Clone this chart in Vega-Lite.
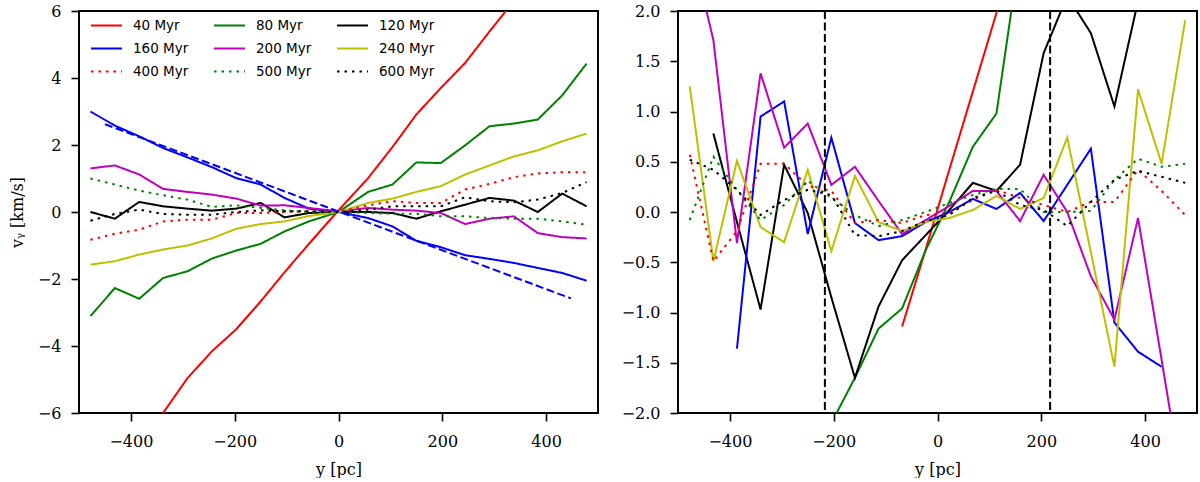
{
  "$schema": "https://vega.github.io/schema/vega-lite/v6.json",
  "padding": {"left": 8, "top": 2, "right": 4, "bottom": 0},
  "background": "white",
  "spacing": 21,
  "config": {
    "view": {"stroke": "black", "strokeWidth": 2},
    "axis": {
      "domain": false,
      "grid": false,
      "tickColor": "black",
      "tickWidth": 1.6,
      "tickSize": 8,
      "labelFont": "DejaVu Serif",
      "labelFontSize": 16,
      "labelColor": "black",
      "titleFont": "DejaVu Serif",
      "titleFontSize": 16,
      "titleFontWeight": "normal",
      "titleColor": "black"
    },
    "axisX": {"labelPadding": 12, "titlePadding": 12},
    "axisY": {"labelPadding": 10, "titlePadding": 12}
  },
  "datasets": {
    "left": [
      {"t": "40 Myr", "x": -478, "v": -8.7}, {"t": "40 Myr", "x": -431, "v": -7.8}, {"t": "40 Myr", "x": -384, "v": -6.9},
      {"t": "40 Myr", "x": -338, "v": -6.0}, {"t": "40 Myr", "x": -291, "v": -4.96}, {"t": "40 Myr", "x": -244, "v": -4.16},
      {"t": "40 Myr", "x": -197, "v": -3.5}, {"t": "40 Myr", "x": -150, "v": -2.67}, {"t": "40 Myr", "x": -104, "v": -1.8},
      {"t": "40 Myr", "x": -57, "v": -0.95}, {"t": "40 Myr", "x": 0, "v": 0.05}, {"t": "40 Myr", "x": 57, "v": 1.01},
      {"t": "40 Myr", "x": 104, "v": 1.94}, {"t": "40 Myr", "x": 150, "v": 2.91}, {"t": "40 Myr", "x": 197, "v": 3.7},
      {"t": "40 Myr", "x": 244, "v": 4.45}, {"t": "40 Myr", "x": 291, "v": 5.39}, {"t": "40 Myr", "x": 338, "v": 6.3},
      {"t": "40 Myr", "x": 384, "v": 7.1}, {"t": "40 Myr", "x": 431, "v": 8.0}, {"t": "40 Myr", "x": 478, "v": 8.8},

      {"t": "80 Myr", "x": -478, "v": -3.11}, {"t": "80 Myr", "x": -431, "v": -2.27}, {"t": "80 Myr", "x": -384, "v": -2.59},
      {"t": "80 Myr", "x": -338, "v": -1.97}, {"t": "80 Myr", "x": -291, "v": -1.77}, {"t": "80 Myr", "x": -244, "v": -1.39},
      {"t": "80 Myr", "x": -197, "v": -1.15}, {"t": "80 Myr", "x": -150, "v": -0.95}, {"t": "80 Myr", "x": -104, "v": -0.58},
      {"t": "80 Myr", "x": -57, "v": -0.28}, {"t": "80 Myr", "x": 0, "v": 0.0}, {"t": "80 Myr", "x": 57, "v": 0.6},
      {"t": "80 Myr", "x": 104, "v": 0.82}, {"t": "80 Myr", "x": 150, "v": 1.48}, {"t": "80 Myr", "x": 197, "v": 1.46},
      {"t": "80 Myr", "x": 244, "v": 1.99}, {"t": "80 Myr", "x": 291, "v": 2.56}, {"t": "80 Myr", "x": 338, "v": 2.64},
      {"t": "80 Myr", "x": 384, "v": 2.76}, {"t": "80 Myr", "x": 431, "v": 3.48}, {"t": "80 Myr", "x": 478, "v": 4.43},

      {"t": "120 Myr", "x": -478, "v": 0.0}, {"t": "120 Myr", "x": -431, "v": -0.2}, {"t": "120 Myr", "x": -384, "v": 0.3},
      {"t": "120 Myr", "x": -338, "v": 0.17}, {"t": "120 Myr", "x": -291, "v": 0.1}, {"t": "120 Myr", "x": -244, "v": 0.04},
      {"t": "120 Myr", "x": -197, "v": 0.1}, {"t": "120 Myr", "x": -150, "v": 0.27}, {"t": "120 Myr", "x": -104, "v": -0.16},
      {"t": "120 Myr", "x": -57, "v": -0.03}, {"t": "120 Myr", "x": 0, "v": 0.0}, {"t": "120 Myr", "x": 57, "v": 0.0},
      {"t": "120 Myr", "x": 104, "v": -0.03}, {"t": "120 Myr", "x": 150, "v": -0.2}, {"t": "120 Myr", "x": 197, "v": 0.02},
      {"t": "120 Myr", "x": 244, "v": 0.22}, {"t": "120 Myr", "x": 291, "v": 0.42}, {"t": "120 Myr", "x": 338, "v": 0.34},
      {"t": "120 Myr", "x": 384, "v": 0.0}, {"t": "120 Myr", "x": 431, "v": 0.55}, {"t": "120 Myr", "x": 478, "v": 0.17},

      {"t": "160 Myr", "x": -478, "v": 3.0}, {"t": "160 Myr", "x": -431, "v": 2.58}, {"t": "160 Myr", "x": -384, "v": 2.26},
      {"t": "160 Myr", "x": -338, "v": 1.91}, {"t": "160 Myr", "x": -291, "v": 1.63}, {"t": "160 Myr", "x": -244, "v": 1.34},
      {"t": "160 Myr", "x": -197, "v": 1.01}, {"t": "160 Myr", "x": -150, "v": 0.82}, {"t": "160 Myr", "x": -104, "v": 0.42},
      {"t": "160 Myr", "x": -57, "v": 0.1}, {"t": "160 Myr", "x": 0, "v": 0.0}, {"t": "160 Myr", "x": 57, "v": -0.18},
      {"t": "160 Myr", "x": 104, "v": -0.43}, {"t": "160 Myr", "x": 150, "v": -0.86}, {"t": "160 Myr", "x": 197, "v": -1.05},
      {"t": "160 Myr", "x": 244, "v": -1.29}, {"t": "160 Myr", "x": 291, "v": -1.4}, {"t": "160 Myr", "x": 338, "v": -1.52},
      {"t": "160 Myr", "x": 384, "v": -1.67}, {"t": "160 Myr", "x": 431, "v": -1.82}, {"t": "160 Myr", "x": 478, "v": -2.05},

      {"t": "200 Myr", "x": -478, "v": 1.3}, {"t": "200 Myr", "x": -431, "v": 1.39}, {"t": "200 Myr", "x": -384, "v": 1.12},
      {"t": "200 Myr", "x": -338, "v": 0.69}, {"t": "200 Myr", "x": -291, "v": 0.6}, {"t": "200 Myr", "x": -244, "v": 0.52},
      {"t": "200 Myr", "x": -197, "v": 0.4}, {"t": "200 Myr", "x": -150, "v": 0.19}, {"t": "200 Myr", "x": -104, "v": 0.2},
      {"t": "200 Myr", "x": -57, "v": 0.12}, {"t": "200 Myr", "x": 0, "v": 0.02}, {"t": "200 Myr", "x": 57, "v": 0.12},
      {"t": "200 Myr", "x": 104, "v": 0.07}, {"t": "200 Myr", "x": 150, "v": 0.04}, {"t": "200 Myr", "x": 197, "v": -0.03},
      {"t": "200 Myr", "x": 244, "v": -0.36}, {"t": "200 Myr", "x": 291, "v": -0.2}, {"t": "200 Myr", "x": 338, "v": -0.13},
      {"t": "200 Myr", "x": 384, "v": -0.63}, {"t": "200 Myr", "x": 431, "v": -0.75}, {"t": "200 Myr", "x": 478, "v": -0.79},

      {"t": "240 Myr", "x": -478, "v": -1.57}, {"t": "240 Myr", "x": -431, "v": -1.47}, {"t": "240 Myr", "x": -384, "v": -1.27},
      {"t": "240 Myr", "x": -338, "v": -1.12}, {"t": "240 Myr", "x": -291, "v": -1.0}, {"t": "240 Myr", "x": -244, "v": -0.79},
      {"t": "240 Myr", "x": -197, "v": -0.5}, {"t": "240 Myr", "x": -150, "v": -0.36}, {"t": "240 Myr", "x": -104, "v": -0.28},
      {"t": "240 Myr", "x": -57, "v": -0.12}, {"t": "240 Myr", "x": 0, "v": 0.0}, {"t": "240 Myr", "x": 57, "v": 0.27},
      {"t": "240 Myr", "x": 104, "v": 0.4}, {"t": "240 Myr", "x": 150, "v": 0.6}, {"t": "240 Myr", "x": 197, "v": 0.77},
      {"t": "240 Myr", "x": 244, "v": 1.12}, {"t": "240 Myr", "x": 291, "v": 1.39}, {"t": "240 Myr", "x": 338, "v": 1.66},
      {"t": "240 Myr", "x": 384, "v": 1.84}, {"t": "240 Myr", "x": 431, "v": 2.11}, {"t": "240 Myr", "x": 478, "v": 2.34},

      {"t": "400 Myr", "x": -478, "v": -0.83}, {"t": "400 Myr", "x": -431, "v": -0.65}, {"t": "400 Myr", "x": -384, "v": -0.53},
      {"t": "400 Myr", "x": -338, "v": -0.28}, {"t": "400 Myr", "x": -291, "v": -0.23}, {"t": "400 Myr", "x": -244, "v": -0.23},
      {"t": "400 Myr", "x": -197, "v": -0.03}, {"t": "400 Myr", "x": -150, "v": -0.03}, {"t": "400 Myr", "x": -104, "v": 0.0},
      {"t": "400 Myr", "x": -57, "v": 0.02}, {"t": "400 Myr", "x": 0, "v": 0.0}, {"t": "400 Myr", "x": 57, "v": 0.2},
      {"t": "400 Myr", "x": 104, "v": 0.32}, {"t": "400 Myr", "x": 150, "v": 0.27}, {"t": "400 Myr", "x": 197, "v": 0.27},
      {"t": "400 Myr", "x": 244, "v": 0.67}, {"t": "400 Myr", "x": 291, "v": 0.84}, {"t": "400 Myr", "x": 338, "v": 1.04},
      {"t": "400 Myr", "x": 384, "v": 1.15}, {"t": "400 Myr", "x": 431, "v": 1.19}, {"t": "400 Myr", "x": 478, "v": 1.19},

      {"t": "500 Myr", "x": -478, "v": 1.0}, {"t": "500 Myr", "x": -431, "v": 0.82}, {"t": "500 Myr", "x": -384, "v": 0.64},
      {"t": "500 Myr", "x": -338, "v": 0.5}, {"t": "500 Myr", "x": -291, "v": 0.37}, {"t": "500 Myr", "x": -244, "v": 0.15},
      {"t": "500 Myr", "x": -197, "v": 0.2}, {"t": "500 Myr", "x": -150, "v": 0.12}, {"t": "500 Myr", "x": -104, "v": 0.05},
      {"t": "500 Myr", "x": -57, "v": 0.0}, {"t": "500 Myr", "x": 0, "v": 0.0}, {"t": "500 Myr", "x": 57, "v": -0.03},
      {"t": "500 Myr", "x": 104, "v": -0.05}, {"t": "500 Myr", "x": 150, "v": -0.05}, {"t": "500 Myr", "x": 197, "v": -0.13},
      {"t": "500 Myr", "x": 244, "v": -0.13}, {"t": "500 Myr", "x": 291, "v": -0.18}, {"t": "500 Myr", "x": 338, "v": -0.2},
      {"t": "500 Myr", "x": 384, "v": -0.2}, {"t": "500 Myr", "x": 431, "v": -0.28}, {"t": "500 Myr", "x": 478, "v": -0.38},

      {"t": "600 Myr", "x": -478, "v": -0.26}, {"t": "600 Myr", "x": -431, "v": -0.06}, {"t": "600 Myr", "x": -384, "v": 0.07},
      {"t": "600 Myr", "x": -338, "v": -0.06}, {"t": "600 Myr", "x": -291, "v": -0.08}, {"t": "600 Myr", "x": -244, "v": -0.08},
      {"t": "600 Myr", "x": -197, "v": 0.0}, {"t": "600 Myr", "x": -150, "v": 0.05}, {"t": "600 Myr", "x": -104, "v": 0.02},
      {"t": "600 Myr", "x": -57, "v": 0.02}, {"t": "600 Myr", "x": 0, "v": 0.0}, {"t": "600 Myr", "x": 57, "v": 0.07},
      {"t": "600 Myr", "x": 104, "v": 0.17}, {"t": "600 Myr", "x": 150, "v": 0.17}, {"t": "600 Myr", "x": 197, "v": 0.17},
      {"t": "600 Myr", "x": 244, "v": 0.44}, {"t": "600 Myr", "x": 291, "v": 0.32}, {"t": "600 Myr", "x": 338, "v": 0.29},
      {"t": "600 Myr", "x": 384, "v": 0.37}, {"t": "600 Myr", "x": 431, "v": 0.57}, {"t": "600 Myr", "x": 478, "v": 0.89}
    ],
    "fit": [{"x": -450, "v": 2.62}, {"x": 448, "v": -2.58}],
    "right": [
      {"t": "40 Myr", "x": -68.2, "v": -1.14}, {"t": "40 Myr", "x": -22.7, "v": -0.37}, {"t": "40 Myr", "x": 22.7, "v": 0.42},
      {"t": "40 Myr", "x": 68.2, "v": 1.2}, {"t": "40 Myr", "x": 113.6, "v": 1.98}, {"t": "40 Myr", "x": 159.1, "v": 2.76},

      {"t": "80 Myr", "x": -204.5, "v": -2.1}, {"t": "80 Myr", "x": -159.1, "v": -1.65}, {"t": "80 Myr", "x": -113.6, "v": -1.16},
      {"t": "80 Myr", "x": -68.2, "v": -0.96}, {"t": "80 Myr", "x": -22.7, "v": -0.38}, {"t": "80 Myr", "x": 22.7, "v": 0.1},
      {"t": "80 Myr", "x": 68.2, "v": 0.65}, {"t": "80 Myr", "x": 113.6, "v": 0.98}, {"t": "80 Myr", "x": 159.1, "v": 2.6},

      {"t": "120 Myr", "x": -431.8, "v": 0.78}, {"t": "120 Myr", "x": -386.4, "v": -0.1}, {"t": "120 Myr", "x": -340.9, "v": -0.97},
      {"t": "120 Myr", "x": -295.5, "v": 0.47}, {"t": "120 Myr", "x": -250, "v": -0.01}, {"t": "120 Myr", "x": -204.5, "v": -0.85},
      {"t": "120 Myr", "x": -159.1, "v": -1.65}, {"t": "120 Myr", "x": -113.6, "v": -0.94}, {"t": "120 Myr", "x": -68.2, "v": -0.48},
      {"t": "120 Myr", "x": -22.7, "v": -0.23}, {"t": "120 Myr", "x": 22.7, "v": 0.02}, {"t": "120 Myr", "x": 68.2, "v": 0.29},
      {"t": "120 Myr", "x": 113.6, "v": 0.21}, {"t": "120 Myr", "x": 159.1, "v": 0.47}, {"t": "120 Myr", "x": 204.5, "v": 1.58},
      {"t": "120 Myr", "x": 250, "v": 2.15}, {"t": "120 Myr", "x": 295.5, "v": 1.78}, {"t": "120 Myr", "x": 340.9, "v": 1.05},
      {"t": "120 Myr", "x": 386.4, "v": 2.1}, {"t": "120 Myr", "x": 431.8, "v": 3.0},

      {"t": "160 Myr", "x": -386.4, "v": -1.36}, {"t": "160 Myr", "x": -340.9, "v": 0.95}, {"t": "160 Myr", "x": -295.5, "v": 1.1},
      {"t": "160 Myr", "x": -250, "v": -0.22}, {"t": "160 Myr", "x": -204.5, "v": 0.74}, {"t": "160 Myr", "x": -159.1, "v": -0.11},
      {"t": "160 Myr", "x": -113.6, "v": -0.28}, {"t": "160 Myr", "x": -68.2, "v": -0.24}, {"t": "160 Myr", "x": -22.7, "v": -0.1},
      {"t": "160 Myr", "x": 22.7, "v": 0.0}, {"t": "160 Myr", "x": 68.2, "v": 0.13}, {"t": "160 Myr", "x": 113.6, "v": 0.03},
      {"t": "160 Myr", "x": 159.1, "v": 0.19}, {"t": "160 Myr", "x": 204.5, "v": -0.09}, {"t": "160 Myr", "x": 250, "v": 0.27},
      {"t": "160 Myr", "x": 295.5, "v": 0.63}, {"t": "160 Myr", "x": 340.9, "v": -1.1}, {"t": "160 Myr", "x": 386.4, "v": -1.39},
      {"t": "160 Myr", "x": 431.8, "v": -1.54},

      {"t": "200 Myr", "x": -477.3, "v": 2.7}, {"t": "200 Myr", "x": -431.8, "v": 1.71}, {"t": "200 Myr", "x": -386.4, "v": -0.31},
      {"t": "200 Myr", "x": -340.9, "v": 1.38}, {"t": "200 Myr", "x": -295.5, "v": 0.64}, {"t": "200 Myr", "x": -250, "v": 0.88},
      {"t": "200 Myr", "x": -204.5, "v": 0.27}, {"t": "200 Myr", "x": -159.1, "v": 0.45}, {"t": "200 Myr", "x": -113.6, "v": 0.11},
      {"t": "200 Myr", "x": -68.2, "v": -0.22}, {"t": "200 Myr", "x": -22.7, "v": -0.08}, {"t": "200 Myr", "x": 22.7, "v": 0.06},
      {"t": "200 Myr", "x": 68.2, "v": 0.21}, {"t": "200 Myr", "x": 113.6, "v": 0.21}, {"t": "200 Myr", "x": 159.1, "v": -0.09},
      {"t": "200 Myr", "x": 204.5, "v": 0.37}, {"t": "200 Myr", "x": 250, "v": 0.0}, {"t": "200 Myr", "x": 295.5, "v": -0.64},
      {"t": "200 Myr", "x": 340.9, "v": -1.07}, {"t": "200 Myr", "x": 386.4, "v": -0.06}, {"t": "200 Myr", "x": 431.8, "v": -1.47},
      {"t": "200 Myr", "x": 477.3, "v": -2.9},

      {"t": "240 Myr", "x": -477.3, "v": 1.25}, {"t": "240 Myr", "x": -431.8, "v": -0.49}, {"t": "240 Myr", "x": -386.4, "v": 0.51},
      {"t": "240 Myr", "x": -340.9, "v": -0.15}, {"t": "240 Myr", "x": -295.5, "v": -0.3}, {"t": "240 Myr", "x": -250, "v": 0.42},
      {"t": "240 Myr", "x": -204.5, "v": -0.39}, {"t": "240 Myr", "x": -159.1, "v": 0.36}, {"t": "240 Myr", "x": -113.6, "v": -0.1},
      {"t": "240 Myr", "x": -68.2, "v": -0.19}, {"t": "240 Myr", "x": -22.7, "v": -0.1}, {"t": "240 Myr", "x": 22.7, "v": -0.06},
      {"t": "240 Myr", "x": 68.2, "v": 0.02}, {"t": "240 Myr", "x": 113.6, "v": 0.16}, {"t": "240 Myr", "x": 159.1, "v": 0.03},
      {"t": "240 Myr", "x": 204.5, "v": 0.14}, {"t": "240 Myr", "x": 250, "v": 0.74}, {"t": "240 Myr", "x": 295.5, "v": -0.4},
      {"t": "240 Myr", "x": 340.9, "v": -1.54}, {"t": "240 Myr", "x": 386.4, "v": 1.22}, {"t": "240 Myr", "x": 431.8, "v": 0.48},
      {"t": "240 Myr", "x": 477.3, "v": 1.91},

      {"t": "400 Myr", "x": -477.3, "v": 0.57}, {"t": "400 Myr", "x": -431.8, "v": -0.49}, {"t": "400 Myr", "x": -386.4, "v": -0.19},
      {"t": "400 Myr", "x": -340.9, "v": 0.48}, {"t": "400 Myr", "x": -295.5, "v": 0.48}, {"t": "400 Myr", "x": -250, "v": 0.26},
      {"t": "400 Myr", "x": -204.5, "v": 0.21}, {"t": "400 Myr", "x": -159.1, "v": -0.11}, {"t": "400 Myr", "x": -113.6, "v": -0.08},
      {"t": "400 Myr", "x": -68.2, "v": -0.11}, {"t": "400 Myr", "x": -22.7, "v": -0.03}, {"t": "400 Myr", "x": 22.7, "v": -0.01},
      {"t": "400 Myr", "x": 68.2, "v": 0.12}, {"t": "400 Myr", "x": 113.6, "v": 0.22}, {"t": "400 Myr", "x": 159.1, "v": 0.14},
      {"t": "400 Myr", "x": 204.5, "v": 0.07}, {"t": "400 Myr", "x": 250, "v": 0.0}, {"t": "400 Myr", "x": 295.5, "v": 0.1},
      {"t": "400 Myr", "x": 340.9, "v": 0.1}, {"t": "400 Myr", "x": 386.4, "v": 0.42}, {"t": "400 Myr", "x": 431.8, "v": 0.21},
      {"t": "400 Myr", "x": 477.3, "v": -0.03},

      {"t": "500 Myr", "x": -477.3, "v": -0.08}, {"t": "500 Myr", "x": -431.8, "v": 0.55}, {"t": "500 Myr", "x": -386.4, "v": 0.22},
      {"t": "500 Myr", "x": -340.9, "v": -0.08}, {"t": "500 Myr", "x": -295.5, "v": 0.07}, {"t": "500 Myr", "x": -250, "v": 0.31},
      {"t": "500 Myr", "x": -204.5, "v": 0.14}, {"t": "500 Myr", "x": -159.1, "v": -0.03}, {"t": "500 Myr", "x": -113.6, "v": -0.14},
      {"t": "500 Myr", "x": -68.2, "v": -0.08}, {"t": "500 Myr", "x": -22.7, "v": 0.0}, {"t": "500 Myr", "x": 22.7, "v": 0.09},
      {"t": "500 Myr", "x": 68.2, "v": 0.17}, {"t": "500 Myr", "x": 113.6, "v": 0.23}, {"t": "500 Myr", "x": 159.1, "v": 0.23},
      {"t": "500 Myr", "x": 204.5, "v": 0.0}, {"t": "500 Myr", "x": 250, "v": 0.0}, {"t": "500 Myr", "x": 295.5, "v": 0.01},
      {"t": "500 Myr", "x": 340.9, "v": 0.32}, {"t": "500 Myr", "x": 386.4, "v": 0.53}, {"t": "500 Myr", "x": 431.8, "v": 0.45},
      {"t": "500 Myr", "x": 477.3, "v": 0.48},

      {"t": "600 Myr", "x": -477.3, "v": 0.52}, {"t": "600 Myr", "x": -431.8, "v": 0.42}, {"t": "600 Myr", "x": -386.4, "v": 0.22},
      {"t": "600 Myr", "x": -340.9, "v": -0.03}, {"t": "600 Myr", "x": -295.5, "v": 0.12}, {"t": "600 Myr", "x": -250, "v": 0.22},
      {"t": "600 Myr", "x": -204.5, "v": 0.17}, {"t": "600 Myr", "x": -159.1, "v": -0.23}, {"t": "600 Myr", "x": -113.6, "v": -0.24},
      {"t": "600 Myr", "x": -68.2, "v": -0.19}, {"t": "600 Myr", "x": -22.7, "v": -0.09}, {"t": "600 Myr", "x": 22.7, "v": -0.03},
      {"t": "600 Myr", "x": 68.2, "v": 0.14}, {"t": "600 Myr", "x": 113.6, "v": 0.21}, {"t": "600 Myr", "x": 159.1, "v": 0.07},
      {"t": "600 Myr", "x": 204.5, "v": 0.02}, {"t": "600 Myr", "x": 250, "v": -0.14}, {"t": "600 Myr", "x": 295.5, "v": 0.1},
      {"t": "600 Myr", "x": 340.9, "v": 0.32}, {"t": "600 Myr", "x": 386.4, "v": 0.41}, {"t": "600 Myr", "x": 431.8, "v": 0.35},
      {"t": "600 Myr", "x": 477.3, "v": 0.29}
    ],
    "bounds": [{"x": -217}, {"x": 217}]
  },
  "resolve": {"legend": {"color": "independent", "strokeDash": "independent"}},
  "hconcat": [
    {
      "width": 519,
      "height": 402,
      "layer": [
        {
          "data": {"name": "left"},
          "mark": {"type": "line", "clip": true, "strokeWidth": 2},
          "encoding": {
            "x": {"field": "x", "type": "quantitative", "title": "y [pc]",
                  "scale": {"domain": [-500, 500], "nice": false},
                  "axis": {"values": [-400, -200, 0, 200, 400]}},
            "y": {"field": "v", "type": "quantitative", "title": "vᵧ [km/s]",
                  "scale": {"domain": [-6, 6], "nice": false},
                  "axis": {"values": [-6, -4, -2, 0, 2, 4, 6]}},
            "color": {
              "field": "t", "type": "nominal",
              "scale": {
                "domain": ["40 Myr", "160 Myr", "400 Myr", "80 Myr", "200 Myr", "500 Myr", "120 Myr", "240 Myr", "600 Myr"],
                "range": ["#ff0000", "#0000ff", "#ff0000", "#008000", "#bf00bf", "#008000", "#000000", "#bfbf00", "#000000"]
              },
              "legend": {
                "title": null, "orient": "none", "legendX": 11, "legendY": -2, "padding": 0,
                "columns": 3, "columnPadding": 21, "rowPadding": -10,
                "symbolType": "stroke", "symbolSize": 961, "symbolStrokeWidth": 2,
                "labelFont": "DejaVu Sans", "labelFontSize": 13.5, "labelColor": "black", "labelOffset": 10
              }
            },
            "strokeDash": {
              "field": "t", "type": "nominal",
              "scale": {
                "domain": ["40 Myr", "160 Myr", "400 Myr", "80 Myr", "200 Myr", "500 Myr", "120 Myr", "240 Myr", "600 Myr"],
                "range": [[1, 0], [1, 0], [2.5, 5], [1, 0], [1, 0], [2.5, 5], [1, 0], [1, 0], [2.5, 5]]
              },
              "legend": {
                "title": null, "orient": "none", "legendX": 11, "legendY": -2, "padding": 0,
                "columns": 3, "columnPadding": 21, "rowPadding": -10,
                "symbolType": "stroke", "symbolSize": 961, "symbolStrokeWidth": 2,
                "labelFont": "DejaVu Sans", "labelFontSize": 13.5, "labelColor": "black", "labelOffset": 10
              }
            }
          }
        },
        {
          "data": {"name": "fit"},
          "mark": {"type": "line", "clip": true, "strokeWidth": 2, "color": "#0000ff", "strokeDash": [8, 3.5]},
          "encoding": {
            "x": {"field": "x", "type": "quantitative"},
            "y": {"field": "v", "type": "quantitative"}
          }
        }
      ]
    },
    {
      "width": 519,
      "height": 402,
      "layer": [
        {
          "data": {"name": "right"},
          "mark": {"type": "line", "clip": true, "strokeWidth": 2},
          "encoding": {
            "x": {"field": "x", "type": "quantitative", "title": "y [pc]",
                  "scale": {"domain": [-500, 500], "nice": false},
                  "axis": {"values": [-400, -200, 0, 200, 400]}},
            "y": {"field": "v", "type": "quantitative", "title": null,
                  "scale": {"domain": [-2, 2], "nice": false},
                  "axis": {"values": [-2, -1.5, -1, -0.5, 0, 0.5, 1, 1.5, 2], "format": ".1f"}},
            "color": {
              "field": "t", "type": "nominal", "legend": null,
              "scale": {
                "domain": ["40 Myr", "160 Myr", "400 Myr", "80 Myr", "200 Myr", "500 Myr", "120 Myr", "240 Myr", "600 Myr"],
                "range": ["#ff0000", "#0000ff", "#ff0000", "#008000", "#bf00bf", "#008000", "#000000", "#bfbf00", "#000000"]
              }
            },
            "strokeDash": {
              "field": "t", "type": "nominal", "legend": null,
              "scale": {
                "domain": ["40 Myr", "160 Myr", "400 Myr", "80 Myr", "200 Myr", "500 Myr", "120 Myr", "240 Myr", "600 Myr"],
                "range": [[1, 0], [1, 0], [2.5, 5], [1, 0], [1, 0], [2.5, 5], [1, 0], [1, 0], [2.5, 5]]
              }
            }
          }
        },
        {
          "data": {"name": "bounds"},
          "mark": {"type": "rule", "clip": true, "color": "black", "strokeWidth": 2, "strokeDash": [8, 3.5]},
          "encoding": {
            "x": {"field": "x", "type": "quantitative"}
          }
        }
      ]
    }
  ]
}
